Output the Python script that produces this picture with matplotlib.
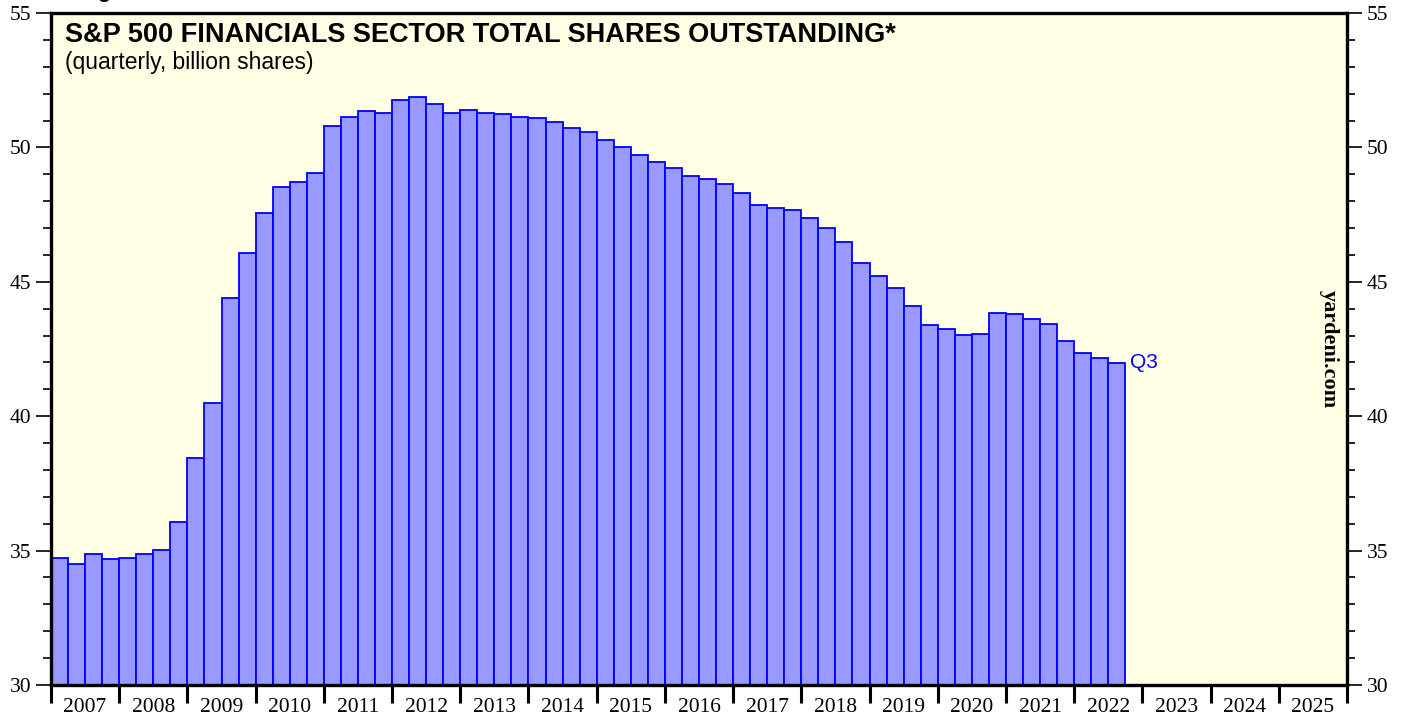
import matplotlib.pyplot as plt
import numpy as np
from matplotlib.ticker import MultipleLocator, FixedLocator

# quarterly shares outstanding, billion shares, 2007 Q1 .. 2022 Q3
shares = [
    34.74, 34.49, 34.89, 34.70,   # 2007
    34.74, 34.86, 35.03, 36.08,   # 2008
    38.45, 40.50, 44.40, 46.06,   # 2009
    47.57, 48.54, 48.73, 49.05,   # 2010
    50.80, 51.12, 51.35, 51.29,   # 2011
    51.75, 51.89, 51.61, 51.28,   # 2012
    51.40, 51.28, 51.26, 51.14,   # 2013
    51.09, 50.96, 50.73, 50.56,   # 2014
    50.28, 50.03, 49.72, 49.47,   # 2015
    49.23, 48.95, 48.82, 48.65,   # 2016
    48.32, 47.87, 47.73, 47.66,   # 2017
    47.39, 47.01, 46.48, 45.71,   # 2018
    45.20, 44.77, 44.10, 43.40,   # 2019
    43.23, 43.02, 43.05, 43.84,   # 2020
    43.80, 43.63, 43.43, 42.79,   # 2021
    42.35, 42.18, 41.98,          # 2022
]
first_year = 2007
years = list(range(2007, 2026))
last_label = "Q3"

plt.rcParams['font.family'] = ['Liberation Serif', 'DejaVu Serif']

fig = plt.figure(figsize=(14.07, 7.19), dpi=100)
ax = fig.add_axes([51/1407, 34/719, 1296/1407, 672/719])
ax.set_facecolor('#ffffe6')

x = first_year + (np.arange(len(shares)) + 0.5) / 4
ax.bar(x, np.array(shares) - 30, bottom=30, width=0.25, color='#9999ff',
       edgecolor='#0000ff', linewidth=1.3, zorder=2)

ax.set_xlim(2007, 2026)
ax.set_ylim(30, 55)

# x axis: ticks at year boundaries, labels centred in each year
ax.xaxis.set_major_locator(FixedLocator(range(2007, 2027)))
ax.xaxis.set_minor_locator(FixedLocator([y + 0.5 for y in years]))
ax.set_xticklabels([])
ax.set_xticklabels([str(y) for y in years], minor=True)
ax.tick_params(axis='x', which='major', direction='out', length=13, width=2.2)
ax.tick_params(axis='x', which='minor', length=0, labelsize=15.5, pad=9)

# y axis on both sides
ax.yaxis.set_major_locator(MultipleLocator(5))
ax.yaxis.set_minor_locator(MultipleLocator(1))
ax.tick_params(axis='y', which='both', left=True, right=True,
               labelleft=True, labelright=True, direction='out', labelsize=15.5)
ax.tick_params(axis='y', which='major', length=11, width=1.2, pad=3)
ax.tick_params(axis='y', which='minor', length=5.5, width=1.2)

for s in ax.spines.values():
    s.set_linewidth(2.4)

ax.text(0.011, 0.987, "S&P 500 FINANCIALS SECTOR TOTAL SHARES OUTSTANDING*",
        transform=ax.transAxes, family='Liberation Sans', fontsize=19.5,
        fontweight='bold', va='top', ha='left')
ax.text(0.011, 0.944, "(quarterly, billion shares)",
        transform=ax.transAxes, family='Liberation Sans', fontsize=16.5,
        va='top', ha='left')

ax.text(x[-1] + 0.2, shares[-1], last_label, color='#0000ff',
        family='Liberation Sans', fontsize=15, va='center', ha='left')

ax.text(0.986, 0.5, "yardeni.com", transform=ax.transAxes, rotation=-90,
        fontsize=16, fontweight='bold', va='center', ha='center')

# figure caption above the top edge, only its descender shows
fig.text(78/1407, 1 + 2.5/719, "Figure 4.", family='Liberation Sans',
         fontsize=16, fontweight='bold', va='baseline', ha='left')

fig.savefig('out.png', dpi=100)
